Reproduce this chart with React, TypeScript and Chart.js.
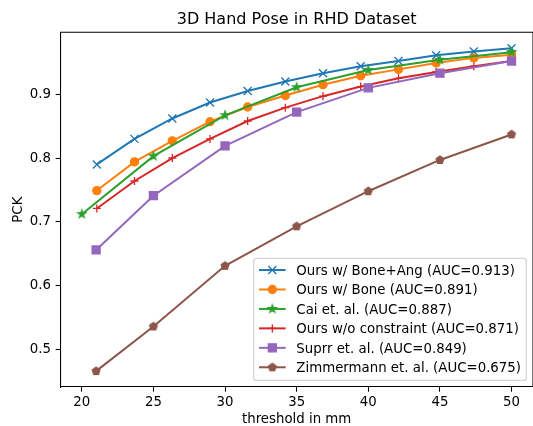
import React, { useEffect, useRef } from 'react';
import { Chart, registerables } from 'chart.js';

Chart.register(...registerables);

// ---------- data ----------
const titleText = '3D Hand Pose in RHD Dataset';
const xAxisLabel = 'threshold in mm';
const yAxisLabel = 'PCK';

const xTickValues = [20, 25, 30, 35, 40, 45, 50];
const yTickValues = [0.5, 0.6, 0.7, 0.8, 0.9];

const thresholdsFine = [21.05, 23.68, 26.32, 28.95, 31.58, 34.21, 36.84, 39.47, 42.11, 44.74, 47.37, 50];
const thresholdsFive = [20, 25, 30, 35, 40, 45, 50];
const thresholdsSparse = [21, 25, 30, 35, 40, 45, 50];

const oursBoneAng = [0.790, 0.830, 0.862, 0.887, 0.905, 0.920, 0.933, 0.944, 0.952, 0.961, 0.967, 0.972];
const oursBone = [0.749, 0.794, 0.827, 0.857, 0.880, 0.898, 0.915, 0.929, 0.939, 0.949, 0.957, 0.962];
const caiEtAl = [0.712, 0.803, 0.867, 0.911, 0.938, 0.954, 0.966];
const oursNoConstraint = [0.721, 0.764, 0.800, 0.830, 0.858, 0.879, 0.897, 0.912, 0.925, 0.935, 0.944, 0.952];
const suprrEtAl = [0.656, 0.741, 0.819, 0.872, 0.910, 0.933, 0.952];
const zimmermannEtAl = [0.466, 0.536, 0.631, 0.693, 0.748, 0.797, 0.837];

const seriesLabels = [
  'Ours w/ Bone+Ang (AUC=0.913)',
  'Ours w/ Bone (AUC=0.891)',
  'Cai et. al. (AUC=0.887)',
  'Ours w/o constraint (AUC=0.871)',
  'Suprr et. al. (AUC=0.849)',
  'Zimmermann et. al. (AUC=0.675)',
];

// ---------- styles ----------
const PT = 96 / 72;
const FONT = "'DejaVu Sans', sans-serif";
const colors = ['#1f77b4', '#ff7f0e', '#2ca02c', '#d62728', '#9467bd', '#8c564b'];
const markerKinds = ['crossRot', 'circle', 'star', 'cross', 'rect', 'pentagon'];
const MS = 4; // half marker size in px (6pt / 2)
const MEW = 1 * PT;
const LW = 1.5 * PT;

const CANVAS_W = 540;
const CANVAS_H = 426;
const AXES_LEFT = 60.3;
const AXES_RIGHT = 536.7;
const AXES_TOP = 32.3;
const AXES_BOTTOM = 387;

function polyCanvas(color: string, n: number, inner: number | null) {
  const size = 16;
  const c = document.createElement('canvas');
  c.width = size;
  c.height = size;
  const ctx = c.getContext('2d')!;
  const cx = size / 2;
  const cy = size / 2;
  ctx.beginPath();
  const count = inner === null ? n : n * 2;
  for (let i = 0; i < count; i++) {
    const ang = -Math.PI / 2 + (i * 2 * Math.PI) / count;
    const r = inner === null ? MS : i % 2 === 0 ? MS : MS * inner;
    const px = cx + r * Math.cos(ang);
    const py = cy + r * Math.sin(ang);
    if (i === 0) ctx.moveTo(px, py);
    else ctx.lineTo(px, py);
  }
  ctx.closePath();
  ctx.fillStyle = color;
  ctx.fill();
  ctx.lineWidth = MEW;
  ctx.strokeStyle = color;
  ctx.lineJoin = 'miter';
  ctx.stroke();
  return c;
}

function drawLegendMarker(ctx: CanvasRenderingContext2D, kind: string, x: number, y: number, color: string, imgs: Record<string, HTMLCanvasElement>) {
  ctx.save();
  ctx.strokeStyle = color;
  ctx.fillStyle = color;
  ctx.lineWidth = MEW;
  if (kind === 'crossRot') {
    ctx.beginPath();
    ctx.moveTo(x - MS, y - MS);
    ctx.lineTo(x + MS, y + MS);
    ctx.moveTo(x - MS, y + MS);
    ctx.lineTo(x + MS, y - MS);
    ctx.stroke();
  } else if (kind === 'cross') {
    ctx.beginPath();
    ctx.moveTo(x - MS, y);
    ctx.lineTo(x + MS, y);
    ctx.moveTo(x, y - MS);
    ctx.lineTo(x, y + MS);
    ctx.stroke();
  } else if (kind === 'circle') {
    ctx.beginPath();
    ctx.arc(x, y, MS, 0, Math.PI * 2);
    ctx.fill();
    ctx.stroke();
  } else if (kind === 'rect') {
    ctx.beginPath();
    ctx.rect(x - MS, y - MS, 2 * MS, 2 * MS);
    ctx.fill();
    ctx.stroke();
  } else {
    const img = imgs[kind];
    ctx.drawImage(img, x - img.width / 2, y - img.height / 2);
  }
  ctx.restore();
}

export default function App() {
  const canvasRef = useRef<HTMLCanvasElement | null>(null);

  useEffect(() => {
    const canvas = canvasRef.current;
    if (!canvas) return;

    const starImg = polyCanvas(colors[2], 5, 0.381966);
    const pentImg = polyCanvas(colors[5], 5, null);
    const imgs: Record<string, HTMLCanvasElement> = { star: starImg, pentagon: pentImg };

    const xsList = [thresholdsFine, thresholdsFine, thresholdsFive, thresholdsFine, thresholdsSparse, thresholdsSparse];
    const ysList = [oursBoneAng, oursBone, caiEtAl, oursNoConstraint, suprrEtAl, zimmermannEtAl];

    const pointStyles: any[] = ['crossRot', 'circle', starImg, 'cross', 'rect', pentImg];
    const pointRadii = [MS * Math.SQRT2, MS, MS, MS, MS * Math.SQRT2, MS];

    const datasets = ysList.map((ys, i) => ({
      label: seriesLabels[i],
      data: ys.map((y, j) => ({ x: xsList[i][j], y })),
      borderColor: colors[i],
      backgroundColor: colors[i],
      borderWidth: LW,
      pointStyle: pointStyles[i],
      pointRadius: pointRadii[i],
      pointBorderWidth: MEW,
      pointBorderColor: colors[i],
      pointBackgroundColor: colors[i],
      tension: 0,
      fill: false,
      order: -i,
    }));

    const decorations = {
      id: 'decorations',
      afterDraw(chart: any) {
        const ctx = chart.ctx as CanvasRenderingContext2D;
        const a = chart.chartArea;
        ctx.save();
        // top and right spines
        ctx.strokeStyle = '#000';
        ctx.lineWidth = 0.8 * PT;
        ctx.beginPath();
        ctx.moveTo(a.left, a.top);
        ctx.lineTo(a.right, a.top);
        ctx.lineTo(a.right, a.bottom);
        ctx.stroke();

        // title
        ctx.fillStyle = '#000';
        ctx.font = `${12 * PT}px ${FONT}`;
        ctx.textAlign = 'center';
        ctx.textBaseline = 'alphabetic';
        const cx = (a.left + a.right) / 2;
        ctx.fillText(titleText, cx, a.top - 6 * PT);

        // axis labels
        ctx.font = `${10 * PT}px ${FONT}`;
        ctx.fillText(xAxisLabel, cx, 423);
        ctx.save();
        ctx.translate(22, (a.top + a.bottom) / 2);
        ctx.rotate(-Math.PI / 2);
        ctx.fillText(yAxisLabel, 0, 0);
        ctx.restore();

        // legend
        const fs = 10 * PT;
        ctx.font = `${fs}px ${FONT}`;
        let maxW = 0;
        seriesLabels.forEach((l) => {
          maxW = Math.max(maxW, ctx.measureText(l).width);
        });
        const pad = 0.4 * fs;
        const handleLen = 2 * fs;
        const textPad = 0.8 * fs;
        const rowPitch = 19.45;
        const boxW = pad + handleLen + textPad + maxW + pad;
        const boxH = 122;
        const right = a.right - 0.5 * fs;
        const bottom = a.bottom - 0.5 * fs;
        const left = right - boxW;
        const top = bottom - boxH;
        const rr = 0.2 * fs;
        ctx.beginPath();
        ctx.moveTo(left + rr, top);
        ctx.arcTo(right, top, right, bottom, rr);
        ctx.arcTo(right, bottom, left, bottom, rr);
        ctx.arcTo(left, bottom, left, top, rr);
        ctx.arcTo(left, top, right, top, rr);
        ctx.closePath();
        ctx.fillStyle = 'rgba(255,255,255,0.8)';
        ctx.fill();
        ctx.strokeStyle = 'rgba(204,204,204,0.8)';
        ctx.lineWidth = 1 * PT;
        ctx.stroke();

        seriesLabels.forEach((l, i) => {
          const y = top + 11.7 + i * rowPitch;
          const hx = left + pad;
          ctx.strokeStyle = colors[i];
          ctx.lineWidth = LW;
          ctx.beginPath();
          ctx.moveTo(hx, y);
          ctx.lineTo(hx + handleLen, y);
          ctx.stroke();
          drawLegendMarker(ctx, markerKinds[i], hx + handleLen / 2, y, colors[i], imgs);
          ctx.fillStyle = '#000';
          ctx.textAlign = 'left';
          ctx.textBaseline = 'alphabetic';
          ctx.fillText(l, hx + handleLen + textPad, y + 4.85);
        });
        ctx.restore();
      },
    };

    const tickFont = { family: FONT, size: 10 * PT };

    const chart = new Chart(canvas, {
      type: 'line',
      data: { datasets: datasets as any },
      options: {
        animation: false,
        responsive: false,
        events: [],
        layout: { padding: { top: AXES_TOP, right: CANVAS_W - AXES_RIGHT, left: 0, bottom: 0 } },
        plugins: {
          legend: { display: false },
          title: { display: false },
          tooltip: { enabled: false },
        },
        scales: {
          x: {
            type: 'linear',
            min: 18.5,
            max: 51.5,
            afterFit: (s: any) => {
              s.height = CANVAS_H - AXES_BOTTOM;
            },
            afterBuildTicks: (s: any) => {
              s.ticks = xTickValues.map((v) => ({ value: v }));
            },
            ticks: {
              font: tickFont,
              color: '#000',
              padding: 2.4,
              maxRotation: 0,
              autoSkip: false,
              callback: (v: any) => String(v),
            },
            grid: {
              drawOnChartArea: false,
              drawTicks: true,
              tickLength: 3.5 * PT,
              tickColor: '#000',
              tickWidth: 0.8 * PT,
            },
            border: { display: true, color: '#000', width: 0.8 * PT },
          },
          y: {
            type: 'linear',
            min: 0.4411,
            max: 0.9971,
            afterFit: (s: any) => {
              s.width = AXES_LEFT;
            },
            afterBuildTicks: (s: any) => {
              s.ticks = yTickValues.map((v) => ({ value: v }));
            },
            ticks: {
              font: tickFont,
              color: '#000',
              padding: 3.5 * PT,
              autoSkip: false,
              callback: (v: any) => Number(v).toFixed(1),
            },
            grid: {
              drawOnChartArea: false,
              drawTicks: true,
              tickLength: 3.5 * PT,
              tickColor: '#000',
              tickWidth: 0.8 * PT,
            },
            border: { display: true, color: '#000', width: 0.8 * PT },
          },
        },
      },
      plugins: [decorations],
    });

    return () => {
      chart.destroy();
    };
  }, []);

  return (
    <div style={{ position: 'fixed', left: 0, top: 0, width: 533, height: 426, overflow: 'hidden', background: '#fff' }}>
      <canvas ref={canvasRef} width={CANVAS_W} height={CANVAS_H} style={{ width: CANVAS_W, height: CANVAS_H, display: 'block' }} />
    </div>
  );
}
